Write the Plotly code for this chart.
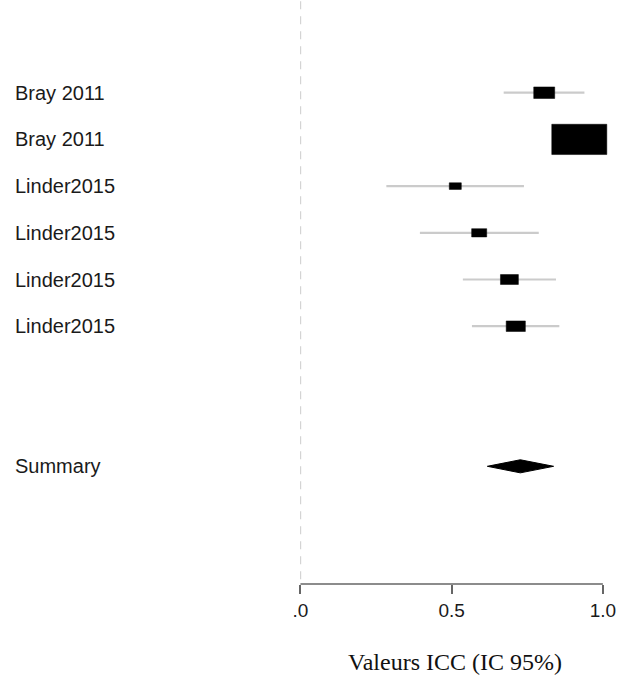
import numpy as np
import plotly.graph_objects as go

# ---- data ----
studies = ["Bray 2011", "Bray 2011", "Linder2015", "Linder2015", "Linder2015", "Linder2015"]
icc = [0.806, 0.922, 0.512, 0.591, 0.691, 0.712]
ci_low = [0.672, 0.860, 0.284, 0.395, 0.537, 0.567]
ci_high = [0.939, 0.975, 0.739, 0.788, 0.845, 0.856]
weights = [9.7, 66.9, 3.2, 5.0, 7.1, 8.1]  # relative study weights (%)

summary_label = "Summary"
summary_est = 0.727
summary_low = 0.618
summary_high = 0.837

tick_vals = [0.0, 0.5, 1.0]
tick_text = [".0", "0.5", "1.0"]
x_title = "Valeurs ICC (IC 95%)"

# ---- layout geometry ----
W, H = 622, 677
ML, MR, MT, MB = 300, 4, 0, 93
x_range = [-0.0015, 1.05]
row_pos = list(range(1, len(studies) + 1))
summary_row = len(studies) + 3
y_range = [11.52, -0.985]
px_per_x = (W - ML - MR) / (x_range[1] - x_range[0])
px_per_row = (H - MT - MB) / (y_range[0] - y_range[1])

box_w = [0.02225 * np.sqrt(w) for w in weights]
box_h = [bw * px_per_x * 0.55 / px_per_row for bw in box_w]

fig = go.Figure()

# confidence interval lines
for r, lo, hi in zip(row_pos, ci_low, ci_high):
    fig.add_trace(go.Scatter(x=[lo, hi], y=[r, r], mode="lines",
                             line=dict(color="#cbcbcb", width=2.2),
                             hoverinfo="skip", showlegend=False))

# weighted boxes (drawn after the CI lines so they sit on top)
bx, by = [], []
for r, e, bw, bh in zip(row_pos, icc, box_w, box_h):
    x0, x1 = e - bw / 2, e + bw / 2
    y0, y1 = r - bh / 2, r + bh / 2
    bx += [x0, x1, x1, x0, x0, None]
    by += [y0, y0, y1, y1, y0, None]
fig.add_trace(go.Scatter(x=bx, y=by, mode="lines", fill="toself", fillcolor="black",
                         line=dict(color="black", width=0.5),
                         showlegend=False, hoverinfo="skip"))

# summary diamond
dh = 0.14
fig.add_trace(go.Scatter(
    x=[summary_low, summary_est, summary_high, summary_est, summary_low],
    y=[summary_row, summary_row - dh, summary_row, summary_row + dh, summary_row],
    mode="lines", fill="toself", fillcolor="black",
    line=dict(color="black", width=1), showlegend=False, hoverinfo="skip"))

# dashed reference line at 0
fig.add_shape(type="line", xref="x", yref="paper", x0=0, x1=0, y0=0.008, y1=1,
              line=dict(color="#d4d4d4", width=1.5, dash="8px,7px"), layer="below")
# bottom axis line from 0 to 1
fig.add_shape(type="line", xref="x", yref="paper", x0=0, x1=1, y0=0, y1=0,
              line=dict(color="#666666", width=1.5))

# row labels
lab_x = (13 - ML) / (W - ML - MR)
for r, name in zip(row_pos, studies):
    fig.add_annotation(x=lab_x, xref="paper", y=r, yref="y",
                       text=name, showarrow=False, xanchor="left", yanchor="middle",
                       font=dict(family="Liberation Sans, Arial", size=20, color="#1a1a1a"))
fig.add_annotation(x=lab_x, xref="paper", y=summary_row, yref="y",
                   text=summary_label, showarrow=False, xanchor="left", yanchor="middle",
                   font=dict(family="Liberation Sans, Arial", size=20, color="#1a1a1a"))

# axis title
fig.add_annotation(x=0.51, xref="x", y=-78 / (H - MT - MB), yref="paper",
                   text=x_title, showarrow=False, xanchor="center", yanchor="middle",
                   font=dict(family="Liberation Serif, Times New Roman", size=24, color="#111111"))

fig.update_layout(
    width=W, height=H, margin=dict(l=ML, r=MR, t=MT, b=MB),
    plot_bgcolor="white", paper_bgcolor="white",
    xaxis=dict(range=x_range, tickvals=tick_vals, ticktext=tick_text,
               showgrid=False, zeroline=False, showline=False,
               ticks="outside", ticklen=9, tickwidth=1.5, tickcolor="#666666",
               tickfont=dict(family="Liberation Sans, Arial", size=19, color="#1a1a1a")),
    yaxis=dict(range=y_range, showgrid=False, zeroline=False, showline=False,
               showticklabels=False, ticks=""),
)

fig.write_html("out.html", config={"displayModeBar": False},
               post_script="document.body.style.margin='0';document.body.style.padding='0';document.body.style.overflow='hidden';")
